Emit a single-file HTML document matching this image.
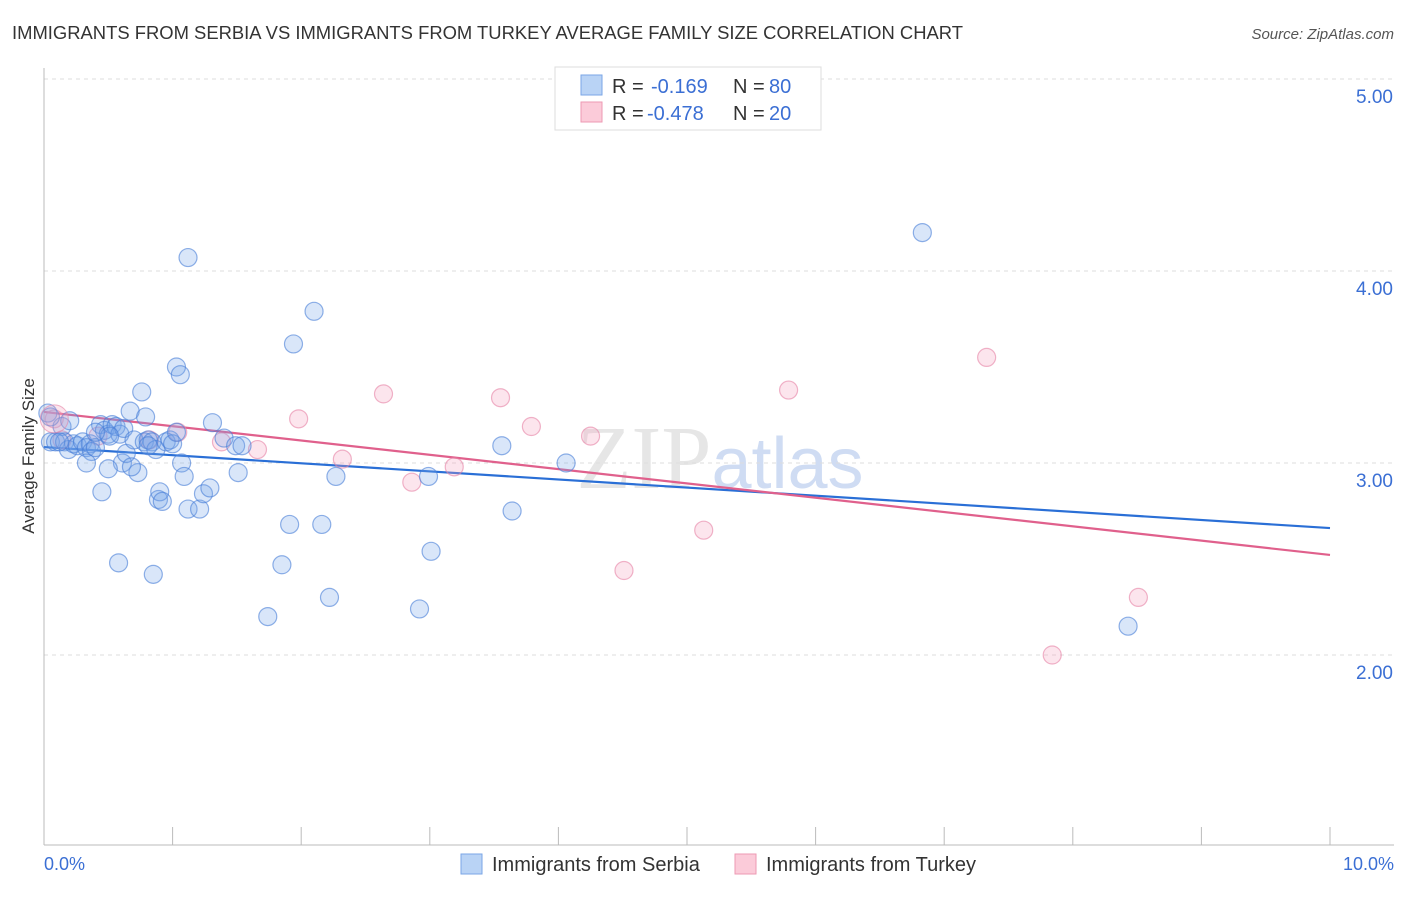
<!DOCTYPE html>
<html><head><meta charset="utf-8"><style>
body{margin:0;background:#fff;font-family:"Liberation Sans",sans-serif;}
</style></head><body>
<svg id="chart" width="1406" height="892" xmlns="http://www.w3.org/2000/svg" font-family="Liberation Sans, sans-serif">
<text x="12" y="39" font-size="18" fill="#333" textLength="951" lengthAdjust="spacingAndGlyphs">IMMIGRANTS FROM SERBIA VS IMMIGRANTS FROM TURKEY AVERAGE FAMILY SIZE CORRELATION CHART</text>
<text x="1394" y="39" font-size="15" fill="#555" text-anchor="end" font-style="italic">Source: ZipAtlas.com</text>
<text x="720" y="488" font-size="90" fill="#e6e6e6" text-anchor="middle" font-family="Liberation Serif, serif">ZIP<tspan fill="#cfdcf3" font-family="Liberation Sans, sans-serif" font-size="72">atlas</tspan></text>
<g id="grid"></g><g id="axes"></g><g id="trend"></g><g id="pts"></g>
<text transform="translate(34,456) rotate(-90)" font-size="17" fill="#333" text-anchor="middle">Average Family Size</text>
<text x="44" y="870" font-size="18" fill="#3b6fd4">0.0%</text>
<text x="1394" y="870" font-size="18" fill="#3b6fd4" text-anchor="end">10.0%</text>
<g>
<rect x="555" y="67" width="266" height="63" fill="#fff" stroke="#ddd"/>
<rect x="581" y="75" width="21" height="20" fill="#b9d3f5" stroke="#7aa6e6"/>
<rect x="581" y="102" width="21" height="20" fill="#fbcbd9" stroke="#ee9ab3"/>
<text x="612" y="93" font-size="20" fill="#333">R =</text>
<text x="651" y="93" font-size="20" fill="#3b6fd4">-0.169</text>
<text x="733" y="93" font-size="20" fill="#333">N =</text>
<text x="769" y="93" font-size="20" fill="#3b6fd4">80</text>
<text x="612" y="120" font-size="20" fill="#333">R =</text>
<text x="647" y="120" font-size="20" fill="#3b6fd4">-0.478</text>
<text x="733" y="120" font-size="20" fill="#333">N =</text>
<text x="769" y="120" font-size="20" fill="#3b6fd4">20</text>
</g>
<g>
<rect x="461" y="854" width="21" height="20" fill="#b9d3f5" stroke="#7aa6e6"/>
<text x="492" y="871" font-size="20" fill="#333">Immigrants from Serbia</text>
<rect x="735" y="854" width="21" height="20" fill="#fbcbd9" stroke="#ee9ab3"/>
<text x="766" y="871" font-size="20" fill="#333">Immigrants from Turkey</text>
</g>
</svg>
<script>
const yTicks=[2,3,4,5];
const yTickLabels=["2.00","3.00","4.00","5.00"];
const serbiaX=[0.03,0.14,0.2,0.05,0.09,0.16,0.19,0.23,0.26,0.3,0.33,0.36,0.37,0.4,0.44,0.47,0.5,0.53,0.56,0.59,0.62,0.33,0.45,0.58,0.61,0.64,0.67,0.7,0.73,0.76,0.78,0.79,0.81,0.84,0.85,0.87,0.89,0.9,0.92,0.95,0.98,1.0,1.03,1.06,1.07,1.09,1.12,1.12,1.21,1.24,1.29,1.31,1.4,1.49,1.51,1.54,1.74,1.85,1.91,1.94,2.1,2.16,2.22,2.27,2.92,2.99,3.01,3.56,3.64,4.06,6.83,8.43,0.5,0.68,0.05,0.12,0.51,0.81,0.4,1.03];
const serbiaY=[3.26,3.19,3.22,3.11,3.11,3.11,3.07,3.10,3.09,3.11,3.08,3.10,3.06,3.08,3.2,3.17,3.15,3.2,3.19,3.15,3.18,3.0,2.85,2.48,3.0,3.05,3.27,3.12,2.95,3.37,3.11,3.24,3.12,3.11,2.42,3.07,2.81,2.85,2.8,3.11,3.12,3.1,3.5,3.46,3.0,2.93,4.07,2.76,2.76,2.84,2.87,3.21,3.13,3.09,2.95,3.09,2.2,2.47,2.68,3.62,3.79,2.68,2.3,2.93,2.24,2.93,2.54,3.09,2.75,3.0,4.2,2.15,2.97,2.98,3.24,3.11,3.14,3.09,3.16,3.16];
const turkeyX=[0.08,0.14,0.42,0.82,1.04,1.38,1.66,1.98,2.32,2.64,2.86,3.19,3.55,3.79,4.25,4.51,5.13,5.79,7.33,7.84,8.51];
const turkeyY=[3.23,3.12,3.14,3.12,3.16,3.11,3.07,3.23,3.02,3.36,2.9,2.98,3.34,3.19,3.14,2.44,2.65,3.38,3.55,2.0,2.3];
const serbiaTrend=[3.083,2.661];
const turkeyTrend=[3.266,2.521];
const NS="http://www.w3.org/2000/svg";
const X=v=>44+v*128.6, Y=v=>655-(v-2)*192;
function mk(t,a,p){const e=document.createElementNS(NS,t);for(const k in a)e.setAttribute(k,a[k]);p.appendChild(e);return e;}
const grid=document.getElementById('grid'),axes=document.getElementById('axes'),trend=document.getElementById('trend'),pts=document.getElementById('pts');
yTicks.forEach((v,i)=>{
 const l=mk('line',{x1:44,x2:1394,y1:Y(v),y2:Y(v),stroke:'#ddd','stroke-dasharray':'4,4'},grid);
 
 
 const t=mk('text',{x:1393,y:Y(v)+24,'font-size':19,fill:'#3b6fd4','text-anchor':'end'},grid);
 t.textContent=yTickLabels[i];
 
 
});
const ax=mk('line',{x1:44,x2:44,y1:68,y2:845,stroke:'#bbb'},axes);


const bx=mk('line',{x1:44,x2:1394,y1:845,y2:845,stroke:'#bbb'},axes);


for(let i=0;i<=10;i++){
 const t=mk('line',{x1:X(i),x2:X(i),y1:827,y2:845,stroke:'#bbb'},axes);
 
 
}
function drawPts(xs,ys,fill,stroke,name){
 xs.forEach((x,i)=>{
  const c=mk('circle',{cx:X(x),cy:Y(ys[i]),r:9,fill:fill,stroke:stroke,'stroke-width':1.2},pts);
  
  
 });
}
drawPts(turkeyX,turkeyY,'rgba(246,160,190,0.28)','rgba(230,130,165,0.6)','turkey-point');
drawPts(serbiaX,serbiaY,'rgba(120,165,235,0.28)','rgba(70,125,215,0.6)','serbia-point');
const big=mk('circle',{cx:X(0.08),cy:Y(3.23),r:14,fill:'rgba(246,160,190,0.28)',stroke:'rgba(230,130,165,0.6)'},pts);


const tb=mk('line',{x1:X(0),y1:Y(serbiaTrend[0]),x2:X(10),y2:Y(serbiaTrend[1]),stroke:'#2a6fd6','stroke-width':2.2},trend);


const tp=mk('line',{x1:X(0),y1:Y(turkeyTrend[0]),x2:X(10),y2:Y(turkeyTrend[1]),stroke:'#e0608c','stroke-width':2.2},trend);


</script>
</body></html>
